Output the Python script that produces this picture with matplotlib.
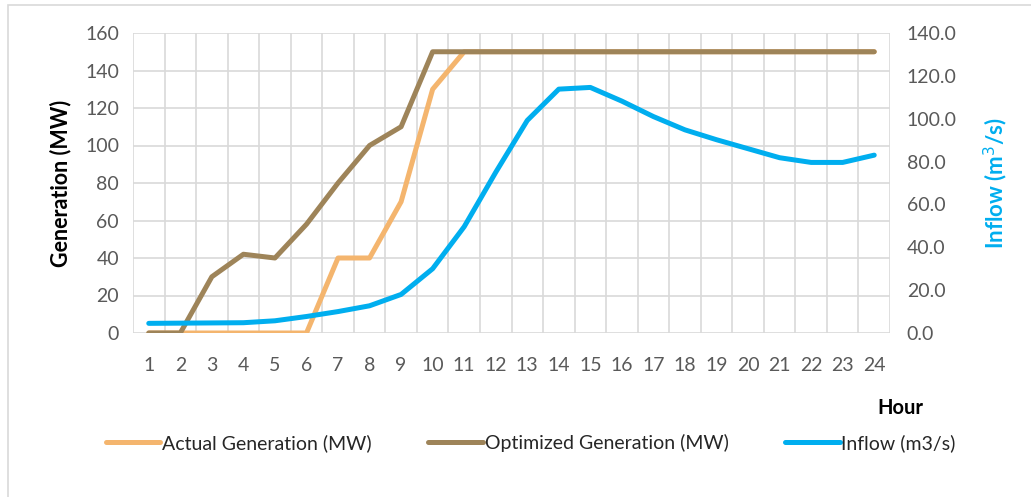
import matplotlib
matplotlib.use("Agg")
import matplotlib.pyplot as plt
from matplotlib.patches import Rectangle
from matplotlib.ticker import FormatStrFormatter, MultipleLocator

# -------- data --------
hours = list(range(1, 25))
actual_gen = [0, 0, 0, 0, 0, 0, 40, 40, 70, 130, 150, 150,
              150, 150, 150, 150, 150, 150, 150, 150, 150, 150, 150, 150]
optimized_gen = [0, 0, 30, 42, 40, 58, 80, 100, 110, 150, 150, 150,
                 150, 150, 150, 150, 150, 150, 150, 150, 150, 150, 150, 150]
inflow = [4.5, 4.6, 4.7, 4.8, 5.7, 7.7, 10.0, 12.7, 18.0, 30.0, 49.6, 75.0,
          99.2, 113.8, 114.6, 108.2, 101.0, 94.8, 90.2, 86.0, 81.8, 79.6, 79.6, 83.0]

C_ACTUAL = "#F4B56E"
C_OPT = "#9E8459"
C_INFLOW = "#00AEEF"
C_TICK = "#595959"
C_GRID = "#D9D9D9"

plt.rcParams["font.family"] = ["Lato", "DejaVu Sans"]

fig = plt.figure(figsize=(10.31, 4.97), dpi=100)
# outer chart border
fig.patches.append(Rectangle((8 / 1031, -0.1), 1.2, 1 - 5 / 497 + 0.1,
                             transform=fig.transFigure, fill=False,
                             edgecolor="#D9D9D9", lw=1.2))

ax = fig.add_axes([133 / 1031, 1 - 333 / 497, 757 / 1031, 300 / 497])
ax2 = ax.twinx()

ax.plot(hours, actual_gen, color=C_ACTUAL, lw=3.6, solid_capstyle="round",
        label="Actual Generation (MW)")
ax.plot(hours, optimized_gen, color=C_OPT, lw=3.6, solid_capstyle="round",
        label="Optimized Generation (MW)")
ax2.plot(hours, inflow, color=C_INFLOW, lw=3.6, solid_capstyle="round",
         label="Inflow (m3/s)")

ax.set_xlim(0.5, 24.5)
ax.set_ylim(0, 160)
ax2.set_ylim(0, 140)
ax.set_xticks(hours)
ax.xaxis.set_minor_locator(MultipleLocator(1, offset=0.5))
ax.yaxis.set_major_locator(MultipleLocator(20))
ax2.yaxis.set_major_locator(MultipleLocator(20))
ax2.yaxis.set_major_formatter(FormatStrFormatter("%.1f"))

ax.grid(True, which="major", axis="y", color=C_GRID, lw=1.2)
ax.grid(True, which="minor", axis="x", color=C_GRID, lw=1.2)
ax.set_axisbelow(True)

for a in (ax, ax2):
    for s in a.spines.values():
        s.set_visible(False)
    a.tick_params(which="both", length=0, labelsize=14, colors=C_TICK)
ax.tick_params(axis="x", pad=17)
ax.tick_params(axis="y", pad=10)
ax2.tick_params(axis="y", pad=12)

ax.set_ylabel("Generation (MW)", fontsize=15.5, fontweight="bold",
              color="black", labelpad=10)
ax2.set_ylabel("Inflow (m$^3$/s)", fontsize=16, fontweight="bold",
               color=C_INFLOW, labelpad=18)
fig.text(900 / 1031, 1 - 408 / 497, "Hour", fontsize=14.5, fontweight="bold",
         ha="center", va="center")

h1, l1 = ax.get_legend_handles_labels()
h2, l2 = ax2.get_legend_handles_labels()
fig.legend(h1 + h2, l1 + l2, loc="center", bbox_to_anchor=(0.515, 1 - 443 / 497),
           ncol=3, frameon=False, fontsize=14, handlelength=2.8,
           handletextpad=0.1, columnspacing=2.9, labelcolor="#262626")

fig.savefig("out.png", dpi=100)
